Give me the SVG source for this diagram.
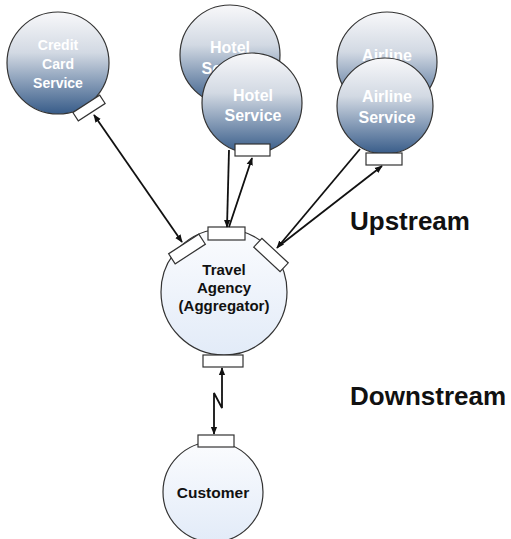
<svg xmlns="http://www.w3.org/2000/svg" width="511" height="539" viewBox="0 0 511 539">
<defs>
<linearGradient id="svc" x1="0" y1="0" x2="0" y2="1">
<stop offset="0" stop-color="#f8f8fa"/>
<stop offset="0.4" stop-color="#d2d9e3"/>
<stop offset="0.72" stop-color="#7f96b3"/>
<stop offset="1" stop-color="#385c89"/>
</linearGradient>
<linearGradient id="light" x1="0" y1="0" x2="0" y2="1">
<stop offset="0" stop-color="#fbfcfe"/>
<stop offset="1" stop-color="#e2ebf8"/>
</linearGradient>
<marker id="ah" viewBox="0 0 10 10" refX="9" refY="5" markerWidth="8" markerHeight="8" orient="auto-start-reverse" markerUnits="userSpaceOnUse">
<path d="M0,1 L10,5 L0,9 z" fill="#111"/>
</marker>
<style>
.svc{fill:url(#svc);stroke:#333;stroke-width:1.2}
.lt{fill:url(#light);stroke:#333;stroke-width:1.2}
.port{fill:#fff;stroke:#333;stroke-width:1.2}
.wt{font-family:"Liberation Sans",Arial,sans-serif;font-weight:bold;fill:#fff;text-anchor:middle}
.bt{font-family:"Liberation Sans",Arial,sans-serif;font-weight:bold;fill:#111;text-anchor:middle}
.st{font-family:"Liberation Sans",Arial,sans-serif;font-weight:bold;fill:#111;text-anchor:start}
.cn{fill:none;stroke:#111;stroke-width:1.8}
</style>
</defs>
<rect width="511" height="539" fill="#fff"/>
<g id="credit-card-service">
<circle class="svc" cx="58" cy="63" r="51"/>
<text class="wt" font-size="14" x="58" y="50">Credit</text>
<text class="wt" font-size="14" x="58" y="69">Card</text>
<text class="wt" font-size="14" x="58" y="88">Service</text>
<rect class="port" x="-16" y="-5" width="32" height="10" transform="translate(89,108) rotate(-33)"/>
</g>
<g id="hotel-service-back">
<circle class="svc" cx="230" cy="55" r="50"/>
<text class="wt" font-size="16" x="230" y="53">Hotel</text>
<text class="wt" font-size="16" x="230" y="74">Service</text>
</g>
<g id="hotel-service">
<circle class="svc" cx="252" cy="103" r="50"/>
<text class="wt" font-size="16" x="253" y="101">Hotel</text>
<text class="wt" font-size="16" x="253" y="121">Service</text>
<rect class="port" x="235" y="144" width="35" height="12"/>
</g>
<g id="airline-service-back">
<circle class="svc" cx="387" cy="62" r="50"/>
<text class="wt" font-size="16" x="387" y="61">Airline</text>
<text class="wt" font-size="16" x="387" y="81">Service</text>
</g>
<g id="airline-service">
<circle class="svc" cx="385" cy="106" r="48"/>
<text class="wt" font-size="16" x="387" y="102">Airline</text>
<text class="wt" font-size="16" x="387" y="123">Service</text>
<rect class="port" x="366" y="153" width="36" height="12"/>
</g>
<g id="travel-agency">
<circle class="lt" cx="224" cy="292" r="63"/>
<rect class="port" x="208" y="227" width="37" height="13"/>
<rect class="port" x="-18" y="-6" width="36" height="12" transform="translate(187,249) rotate(-33)"/>
<rect class="port" x="-18" y="-6" width="36" height="12" transform="translate(271,255) rotate(43)"/>
<rect class="port" x="203" y="355" width="40" height="12"/>
<text class="bt" font-size="15" x="224" y="275">Travel</text>
<text class="bt" font-size="15" x="224" y="293">Agency</text>
<text class="bt" font-size="15" x="224" y="311">(Aggregator)</text>
</g>
<g id="customer">
<circle class="lt" cx="213" cy="492" r="50"/>
<rect class="port" x="198" y="435" width="36" height="12"/>
<text class="bt" font-size="15.5" x="213" y="498">Customer</text>
</g>
<g id="connectors">
<line class="cn" x1="94" y1="115" x2="182" y2="242" marker-start="url(#ah)" marker-end="url(#ah)"/>
<line class="cn" x1="229" y1="150" x2="227" y2="227" marker-end="url(#ah)"/>
<line class="cn" x1="229" y1="227" x2="252" y2="158" marker-end="url(#ah)"/>
<line class="cn" x1="360" y1="149" x2="277" y2="248" marker-end="url(#ah)"/>
<line class="cn" x1="279" y1="246" x2="382" y2="166" marker-end="url(#ah)"/>
<path class="cn" d="M222,368 L222,408 L214,393 L214,434" marker-start="url(#ah)" marker-end="url(#ah)"/>
</g>
<g id="labels">
<text class="st" font-size="26" x="350" y="230">Upstream</text>
<text class="st" font-size="26" x="350" y="405">Downstream</text>
</g>
</svg>
